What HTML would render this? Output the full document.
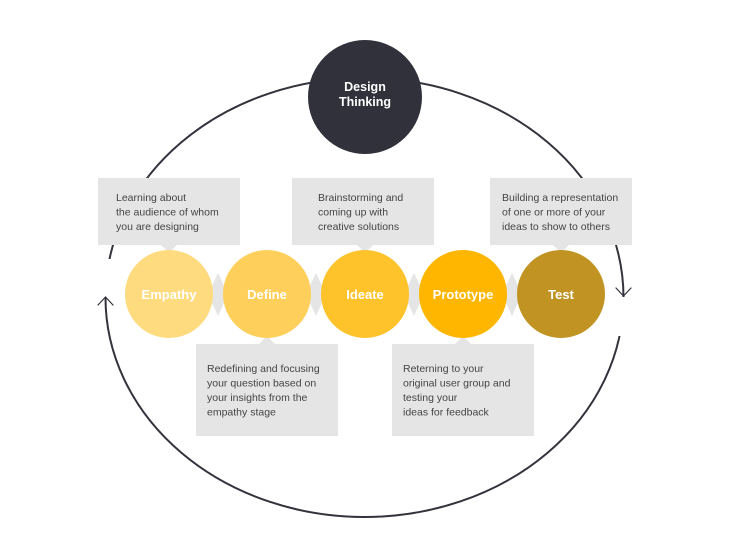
<!DOCTYPE html>
<html><head><meta charset="utf-8"><style>
html,body{margin:0;padding:0;background:#fff;}
svg{display:block;}
</style></head><body>
<svg width="730" height="554" viewBox="0 0 730 554" xmlns="http://www.w3.org/2000/svg" font-family="Liberation Sans, sans-serif">
<ellipse cx="364.5" cy="297.5" rx="259" ry="219.5" fill="none" stroke="#33333d" stroke-width="2"/>
<rect x="96" y="259" width="22" height="38" fill="#fff"/>
<rect x="612" y="297" width="22" height="39" fill="#fff"/>
<g fill="none" stroke="#33333d" stroke-width="1.2" stroke-linecap="round">
<path d="M616 288 L623.5 296 L631 288"/>
<path d="M98 305 L105.5 297 L113 305"/>
</g>
<circle cx="365" cy="97" r="57" fill="#31313b"/>
<text x="365" y="91" fill="#fff" font-size="12.5" font-weight="bold" text-anchor="middle">Design</text>
<text x="365" y="106" fill="#fff" font-size="12.5" font-weight="bold" text-anchor="middle">Thinking</text>
<g fill="#e5e5e5">
<rect x="98" y="178" width="142" height="67"/><polygon points="161,245 177,245 169,253"/>
<rect x="292" y="178" width="142" height="67"/><polygon points="357,245 373,245 365,253"/>
<rect x="490" y="178" width="142" height="67"/><polygon points="553,245 569,245 561,253"/>
<rect x="196" y="344" width="142" height="92"/><polygon points="259,344 275,344 267,336"/>
<rect x="392" y="344" width="142" height="92"/><polygon points="455,344 471,344 463,336"/>
<polygon points="218,273 228,294 218,316 208,294"/>
<polygon points="316,273 326,294 316,316 306,294"/>
<polygon points="414,273 424,294 414,316 404,294"/>
<polygon points="512,273 522,294 512,316 502,294"/>
</g>
<circle cx="169" cy="294" r="44" fill="#fedb7e"/>
<circle cx="267" cy="294" r="44" fill="#fecf5a"/>
<circle cx="365" cy="294" r="44" fill="#fec22b"/>
<circle cx="463" cy="294" r="44" fill="#feb600"/>
<circle cx="561" cy="294" r="44" fill="#c09322"/>
<g fill="#fff" font-size="13" font-weight="bold" text-anchor="middle">
<text x="169" y="299">Empathy</text>
<text x="267" y="299">Define</text>
<text x="365" y="299">Ideate</text>
<text x="463" y="299">Prototype</text>
<text x="561" y="299">Test</text>
</g>
<g fill="#444" font-size="10.5">
<text x="116" y="201">Learning about</text>
<text x="116" y="215.5">the audience of whom</text>
<text x="116" y="230">you are designing</text>
<text x="318" y="201">Brainstorming and</text>
<text x="318" y="215.5">coming up with</text>
<text x="318" y="230">creative solutions</text>
<text x="502" y="201">Building a representation</text>
<text x="502" y="215.5">of one or more of your</text>
<text x="502" y="230">ideas to show to others</text>
<text x="207" y="372">Redefining and focusing</text>
<text x="207" y="386.5">your question based on</text>
<text x="207" y="401">your insights from the</text>
<text x="207" y="415.5">empathy stage</text>
<text x="403" y="372">Reterning to your</text>
<text x="403" y="386.5">original user group and</text>
<text x="403" y="401">testing your</text>
<text x="403" y="415.5">ideas for feedback</text>
</g>
</svg>
</body></html>
